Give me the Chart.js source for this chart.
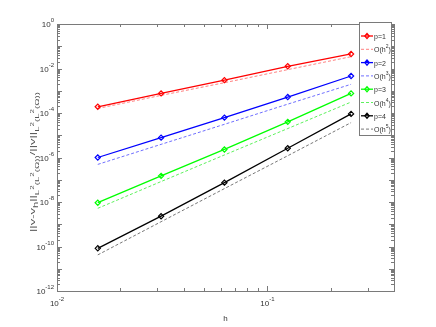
<!DOCTYPE html>
<html>
<head>
<meta charset="utf-8">
<script src="https://cdn.jsdelivr.net/npm/chart.js@4.4.0/dist/chart.umd.min.js"></script>
<style>
  body { margin: 0; background: #fff; }
  #wrap { width: 436px; height: 327px; }
</style>
</head>
<body>
<div id="wrap"><canvas id="chart" width="436" height="327"></canvas></div>
<script>
// mesh sizes h
const hValues = [0.015625, 0.03125, 0.0625, 0.125, 0.25];

// relative L2(L2) errors
const errP1 = [1.9e-4, 7.6e-4, 3.0e-3, 1.26e-2, 4.5e-2];
const errP2 = [1.0e-6, 7.8e-6, 6.2e-5, 5.2e-4, 4.6e-3];
const errP3 = [9.3e-9, 1.5e-7, 2.3e-6, 4.0e-5, 7.6e-4];
const errP4 = [8.3e-11, 2.3e-9, 7.4e-8, 2.6e-6, 9.1e-5];

// reference slopes O(h^k)
const refH2 = [1.6e-4, 6.2e-4, 2.3e-3, 8.9e-3, 3.4e-2];
const refH3 = [4.9e-7, 3.9e-6, 3.1e-5, 2.5e-4, 1.95e-3];
const refH4 = [5.2e-9, 8.3e-8, 1.3e-6, 2.0e-5, 3.1e-4];
const refH5 = [4.2e-11, 1.3e-9, 4.0e-8, 1.2e-6, 3.7e-5];

const seriesNames = ["p=1", "O(h2)", "p=2", "O(h3)", "p=3", "O(h4)", "p=4", "O(h5)"];
const yTickExps = [0, -2, -4, -6, -8, -10, -12];
const xTickExps = [-2, -1];

const FONT = "Liberation Sans, Arial, sans-serif";
const AXIS = "#7a7a7a";
const TXT = "#333";

function pts(ys) {
  return ys.map((y, i) => ({ x: hValues[i], y: y }));
}

function solid(label, ys, color) {
  return {
    label: label, data: pts(ys), borderColor: color, backgroundColor: color,
    borderWidth: 1.3, pointStyle: "rectRot", pointRadius: 2.6,
    pointBorderWidth: 1.2, pointBackgroundColor: "rgba(255,255,255,0)",
    pointBorderColor: color, tension: 0
  };
}
function dashed(label, ys, color) {
  return {
    label: label, data: pts(ys), borderColor: color, borderWidth: 0.8,
    borderDash: [3, 2], pointRadius: 0, tension: 0
  };
}

function richWidth(ctx, parts) {
  let w = 0;
  parts.forEach(p => { ctx.font = p[1] + "px " + FONT; w += ctx.measureText(p[0]).width; });
  return w;
}

// draw text pieces with sub/superscripts: [text, size, dy]
function rich(ctx, parts, x, y, align) {
  const w = richWidth(ctx, parts);
  let cx = align === "right" ? x - w : align === "center" ? x - w / 2 : x;
  parts.forEach(p => {
    ctx.font = p[1] + "px " + FONT;
    ctx.fillText(p[0], cx, y + p[2]);
    cx += ctx.measureText(p[0]).width;
  });
}

const yTitle = [
  ["||v-v", 8, 0], ["h", 7, 3], ["||", 8, 0],
  ["L", 6, 4], ["2", 5, -1], ["(L", 6, 4], ["2", 5, -1], ["(\u03A9))", 6, 4],
  ["/||v||", 8, 0],
  ["L", 6, 4], ["2", 5, -1], ["(L", 6, 4], ["2", 5, -1], ["(\u03A9))", 6, 4]
];

const matlabAxes = {
  id: "matlabAxes",
  afterDraw(chart) {
    const ctx = chart.ctx;
    const a = chart.chartArea;
    const xs = chart.scales.x, ys = chart.scales.y;
    ctx.save();
    ctx.strokeStyle = AXIS;
    ctx.lineWidth = 1;
    ctx.strokeRect(Math.round(a.left) + 0.5, Math.round(a.top) + 0.5,
      Math.round(a.right - a.left), Math.round(a.bottom - a.top));

    ctx.beginPath();
    // y ticks
    for (let e = -12; e <= 0; e++) {
      for (let m = 1; m <= 9; m++) {
        const v = m * Math.pow(10, e);
        if (v > 1 || (e === 0 && m > 1)) continue;
        const py = Math.round(ys.getPixelForValue(v)) + 0.5;
        const len = m === 1 ? 5 : 3;
        ctx.moveTo(a.left, py); ctx.lineTo(a.left + len, py);
        ctx.moveTo(a.right, py); ctx.lineTo(a.right - len, py);
      }
    }
    // x ticks
    for (let e = -2; e <= -1; e++) {
      for (let m = 1; m <= 9; m++) {
        const v = m * Math.pow(10, e);
        if (v > 0.4) continue;
        const px = Math.round(xs.getPixelForValue(v)) + 0.5;
        const len = m === 1 ? 5 : 3;
        ctx.moveTo(px, a.bottom); ctx.lineTo(px, a.bottom - len);
        ctx.moveTo(px, a.top); ctx.lineTo(px, a.top + len);
      }
    }
    ctx.stroke();

    ctx.fillStyle = TXT;
    ctx.textBaseline = "alphabetic";
    yTickExps.forEach(e => {
      const py = ys.getPixelForValue(Math.pow(10, e));
      rich(ctx, [["10", 8, 0], [String(e), 6, -5]], a.left - 3, py + 3, "right");
    });
    xTickExps.forEach(e => {
      const px = xs.getPixelForValue(Math.pow(10, e));
      rich(ctx, [["10", 8, 0], [String(e), 6, -5]], px, a.bottom + 15, "center");
    });
    ctx.font = "8px " + FONT;
    ctx.textAlign = "center";
    ctx.fillText("h", (a.left + a.right) / 2, a.bottom + 30);
    ctx.textAlign = "left";

    // y axis title, stretched along its length like the original
    ctx.save();
    ctx.fillStyle = "#555";
    ctx.translate(35, 162);
    ctx.rotate(-Math.PI / 2);
    const tw = richWidth(ctx, yTitle);
    ctx.scale(140 / tw, 1);
    rich(ctx, yTitle, 0, 0, "center");
    ctx.restore();

    // legend box
    const lx = 359, ly = 22, lw = 32, lh = 113;
    ctx.fillStyle = "#fff";
    ctx.fillRect(lx, ly, lw, lh);
    ctx.strokeStyle = AXIS;
    ctx.strokeRect(lx + 0.5, ly + 0.5, lw, lh);
    chart.data.datasets.forEach((ds, i) => {
      const ry = ly + 14 + i * 13.3;
      ctx.save();
      ctx.strokeStyle = ds.borderColor;
      ctx.lineWidth = ds.borderWidth;
      ctx.setLineDash(ds.borderDash || []);
      ctx.beginPath();
      ctx.moveTo(lx + 2, ry); ctx.lineTo(lx + 14, ry);
      ctx.stroke();
      ctx.restore();
      if (ds.pointRadius > 0) {
        ctx.save();
        ctx.strokeStyle = ds.borderColor;
        ctx.lineWidth = 1.2;
        ctx.beginPath();
        ctx.moveTo(lx + 8, ry - 2.6); ctx.lineTo(lx + 10.2, ry);
        ctx.lineTo(lx + 8, ry + 2.6); ctx.lineTo(lx + 5.8, ry); ctx.closePath();
        ctx.stroke();
        ctx.restore();
      }
      ctx.fillStyle = TXT;
      const name = seriesNames[i];
      if (name.startsWith("O")) {
        rich(ctx, [["O(h", 7, 0], [name.slice(3, 4), 5, -4], [")", 7, 0]], lx + 15, ry + 3, "left");
      } else {
        rich(ctx, [[name, 7, 0]], lx + 15, ry + 3, "left");
      }
    });
    ctx.restore();
  }
};

new Chart(document.getElementById("chart").getContext("2d"), {
  type: "line",
  data: {
    datasets: [
      solid(seriesNames[0], errP1, "#ff0000"),
      dashed(seriesNames[1], refH2, "#ff6060"),
      solid(seriesNames[2], errP2, "#0000ff"),
      dashed(seriesNames[3], refH3, "#4a4aff"),
      solid(seriesNames[4], errP3, "#00ff00"),
      dashed(seriesNames[5], refH4, "#33ee33"),
      solid(seriesNames[6], errP4, "#000000"),
      dashed(seriesNames[7], refH5, "#555555")
    ]
  },
  options: {
    responsive: false,
    animation: false,
    layout: { padding: { left: 57, right: 42, top: 24, bottom: 36 } },
    plugins: { legend: { display: false }, tooltip: { enabled: false } },
    scales: {
      x: {
        type: "logarithmic", min: 0.01, max: 0.4,
        grid: { display: false }, border: { display: false },
        ticks: { display: false },
        afterFit: s => { s.height = 0; }
      },
      y: {
        type: "logarithmic", min: 1e-12, max: 1,
        grid: { display: false }, border: { display: false },
        ticks: { display: false },
        afterFit: s => { s.width = 0; }
      }
    }
  },
  plugins: [matlabAxes]
});
</script>
</body>
</html>
